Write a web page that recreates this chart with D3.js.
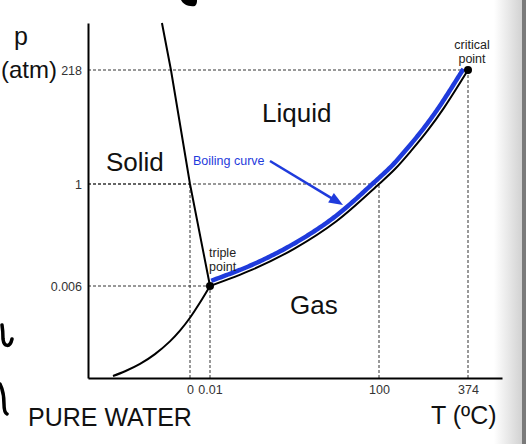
<!DOCTYPE html>
<html>
  <head>
    <meta charset="utf-8">
    <title>Phase diagram of pure water</title>
    <script src="https://d3js.org/d3.v7.min.js"></script>
    <style>
      body { margin: 0; background: #fff; }
      svg { display: block; font-family: "Liberation Sans", Arial, sans-serif; }
    </style>
  </head>
  <body>
    <div id="vis"></div>
    <script>
        const width = 526;
        const height = 444;

        // axis ticks (the diagram is schematic, not to scale)
        const tempTicks = [0, 0.01, 100, 374];
        const tempLabels = ["0", "0.01", "100", "374"];
        const presTicks = [0.006, 1, 218];
        const presLabels = ["0.006", "1", "218"];

        // break points of the piecewise axes
        const tempStops = [-60, 0, 0.01, 100, 374, 480];
        const presStops = [0, 0.006, 1, 218, 330];

        // phase boundaries (T in ºC, p in atm)
        const sublimationT = [-45.3, -38.2, -29.4, -20.6, -11.8, -5.9, 0, 0.005, 0.01];
        const sublimationP = [0.00013, 0.00044, 0.00092, 0.00156, 0.00239, 0.00309, 0.00393, 0.00492, 0.006];
        const meltingT = [0.01, 0, -11.2, -16.5];
        const meltingP = [0.006, 1, 218, 330];
        const boilingT = [0.01, 25, 50, 75, 100, 150, 200, 250, 300, 374];
        const boilingP = [0.006, 0.165, 0.371, 0.640, 1, 30, 65, 103, 146, 218];

        // dashed guide points
        const guideT = [0, 0.01, 100, 374];
        const guideP = [1, 0.006, 1, 218];

        const triplePoint = [0.01, 0.006];
        const criticalPoint = [374, 218];

        const blue = "#1f3bdc";

        let x = d3.scaleLinear().domain(tempStops).range([88, 190, 210, 379, 468, 502]);
        let y = d3.scaleLinear().domain(presStops).range([378, 286, 184, 70, 23]);

        let vis = d3.select('#vis')
                    .append('svg')
                    .attr('width', width)
                    .attr('height', height);

        // page edge shading on the right
        let defs = vis.append("defs");
        let grad = defs.append("linearGradient").attr("id", "edge");
        grad.append("stop").attr("offset", "0%").attr("stop-color", "#fff");
        grad.append("stop").attr("offset", "100%").attr("stop-color", "#d2d2d2");
        vis.append("rect").attr("x", 494).attr("y", 0).attr("width", 28).attr("height", height).attr("fill", "url(#edge)");
        vis.append("rect").attr("x", 522).attr("y", 0).attr("width", 4).attr("height", height).attr("fill", "#7a7a7a");

        // handwritten marks left on the slide
        let ink = vis.append("g").attr("fill", "none").attr("stroke", "#000")
                     .attr("stroke-width", 3.5).attr("stroke-linecap", "round");
        ink.append("path").attr("d", "M2,325 C3,331 3,336 3,339 C4,347 10,348 12,339");
        ink.append("path").attr("d", "M0,384 C3,390 4,396 4,404 C4,410 5,413 7,414");
        vis.append("path").attr("d", "M181,0 C183,4 188,7 195,6 C197,4 197,2 197,0 Z").attr("fill", "#000");

        // dashed guides
        let guides = vis.append("g").attr("stroke", "#333").attr("stroke-width", 1)
                        .attr("stroke-dasharray", "3,2").attr("fill", "none");
        guideT.forEach((t, i) => {
          guides.append("line")
                .attr("x1", x.range()[0]).attr("x2", x(t))
                .attr("y1", y(guideP[i])).attr("y2", y(guideP[i]));
          guides.append("line")
                .attr("x1", x(t)).attr("x2", x(t))
                .attr("y1", y.range()[0]).attr("y2", y(guideP[i]));
        });

        // axes
        let xAxis = d3.axisBottom(x).tickValues(tempTicks).tickFormat((d, i) => tempLabels[i])
                      .tickSize(0).tickPadding(7);
        let yAxis = d3.axisLeft(y).tickValues(presTicks).tickFormat((d, i) => presLabels[i])
                      .tickSize(0).tickPadding(6);

        let gx = vis.append("g").attr("transform", `translate(0,${y.range()[0]})`).call(xAxis);
        let gy = vis.append("g").attr("transform", `translate(${x.range()[0]},0)`).call(yAxis);
        [gx, gy].forEach(g => {
          g.select(".domain").attr("stroke", "#000").attr("stroke-width", 2);
          g.selectAll("text").attr("font-size", 12.5).attr("fill", "#333")
           .attr("font-family", "'Liberation Sans', Arial, sans-serif");
        });

        // phase boundaries
        let line = d3.line().x(d => x(d[0])).y(d => y(d[1]));
        let curves = vis.append("g").attr("fill", "none").attr("stroke", "#000").attr("stroke-width", 2);

        curves.append("path")
              .attr("d", line.curve(d3.curveCatmullRom)(sublimationT.map((t, i) => [t, sublimationP[i]])));
        curves.append("path")
              .attr("d", line.curve(d3.curveLinear)(meltingT.map((t, i) => [t, meltingP[i]])));
        let boil = curves.append("path")
              .attr("d", line.curve(d3.curveCatmullRom)(boilingT.map((t, i) => [t, boilingP[i]])));

        // blue highlight running parallel above the boiling curve
        let node = boil.node();
        let total = node.getTotalLength();
        let offsetPts = [];
        for (let s = 3; s <= total; s += 2) {
          let a = node.getPointAtLength(Math.max(0, s - 1));
          let b = node.getPointAtLength(Math.min(total, s + 1));
          let p = node.getPointAtLength(s);
          let dx = b.x - a.x, dy = b.y - a.y;
          let len = Math.hypot(dx, dy) || 1;
          offsetPts.push([p.x + dy / len * 4.5, p.y - dx / len * 4.5]);
        }
        vis.append("path")
           .attr("d", d3.line()(offsetPts))
           .attr("fill", "none")
           .attr("stroke", blue)
           .attr("stroke-width", 4.5);

        // triple and critical points
        vis.append("g").selectAll("circle")
           .data([triplePoint, criticalPoint])
           .enter()
           .append("circle")
           .attr("cx", d => x(d[0]))
           .attr("cy", d => y(d[1]))
           .attr("r", 4)
           .attr("fill", "#000");

        // arrow pointing at the boiling curve
        let from = [x(35.5), y(44.8)];
        let to = [x(78.7), y(0.795)];
        let ang = Math.atan2(to[1] - from[1], to[0] - from[0]);
        let headLen = 14, headHalf = 5.5;
        let base = [to[0] - headLen * Math.cos(ang), to[1] - headLen * Math.sin(ang)];
        vis.append("line")
           .attr("x1", from[0]).attr("y1", from[1])
           .attr("x2", base[0] + 2 * Math.cos(ang)).attr("y2", base[1] + 2 * Math.sin(ang))
           .attr("stroke", blue).attr("stroke-width", 2.5);
        vis.append("path")
           .attr("d", d3.line()([
             to,
             [base[0] - headHalf * Math.sin(ang), base[1] + headHalf * Math.cos(ang)],
             [base[0] + headHalf * Math.sin(ang), base[1] - headHalf * Math.cos(ang)]
           ]) + "Z")
           .attr("fill", blue);

        // text
        let label = (t, px, py, size, anchor) => vis.append("text")
              .attr("x", px).attr("y", py)
              .attr("font-size", size)
              .attr("text-anchor", anchor || "start")
              .attr("fill", "#111")
              .text(t);

        label("p", 14, 45, 25);
        label("(atm)", 1, 78, 24);
        label("PURE WATER", 28, 426, 25);
        label("T (ºC)", 431, 424, 25);
        label("Solid", 106, 171, 26);
        label("Liquid", 262, 122, 26);
        label("Gas", 290, 314, 26);

        label("Boiling curve", 193, 165, 12.5).attr("fill", blue);
        label("triple", 209, 257, 12.5).attr("fill", "#222");
        label("point", 209, 271, 12.5).attr("fill", "#222");
        label("critical", 472, 49, 12.5, "middle").attr("fill", "#222");
        label("point", 472, 63, 12.5, "middle").attr("fill", "#222");
    </script>
  </body>
</html>
